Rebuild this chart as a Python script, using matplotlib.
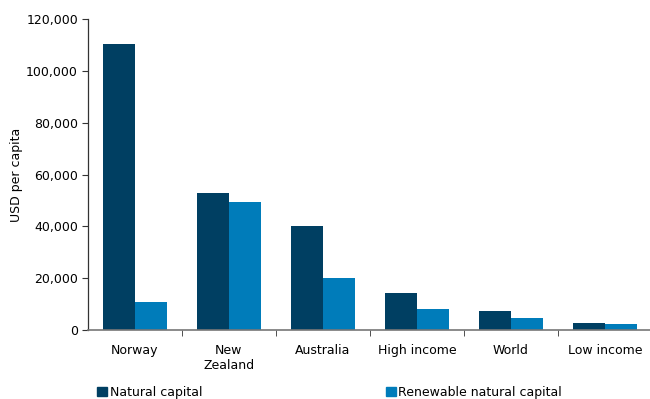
import numpy as np
import matplotlib
matplotlib.use("Agg")
import matplotlib.pyplot as plt
from matplotlib.patches import Patch
from matplotlib.ticker import FuncFormatter

categories = ["Norway", "New\nZealand", "Australia", "High income", "World", "Low income"]
natural_capital = [110300, 53000, 40100, 14300, 7300, 2600]
renewable_capital = [10800, 49400, 19900, 8100, 4600, 2300]

dark_blue = "#003f62"
light_blue = "#007cba"

plt.rcParams["font.family"] = "DejaVu Sans"
plt.rcParams["font.size"] = 9

fig = plt.figure(figsize=(6.5, 3.99), dpi=100)
ax = fig.add_axes([0.135, 0.173, 0.868, 0.779])

x = np.arange(len(categories))
w = 0.34
ax.bar(x - w / 2, natural_capital, w, color=dark_blue, label="Natural capital")
ax.bar(x + w / 2, renewable_capital, w, color=light_blue, label="Renewable natural capital")

ax.set_xlim(-0.5, len(categories) - 0.5)
ax.set_ylim(0, 120000)
ax.set_yticks(np.arange(0, 120001, 20000))
ax.yaxis.set_major_formatter(FuncFormatter(lambda v, p: f"{int(v):,}"))
ax.set_ylabel("USD per capita", labelpad=2)

ax.set_xticks(x)
ax.set_xticklabels(categories)
ax.tick_params(axis="x", which="major", length=0, pad=10)
ax.set_xticks(x[:-1] + 0.5, minor=True)
ax.tick_params(axis="x", which="minor", length=4, direction="out", color="#333333")
ax.tick_params(axis="y", length=4, direction="out", color="#333333", pad=3)

for s in ["top", "right"]:
    ax.spines[s].set_visible(False)
ax.spines["left"].set_color("#333333")
ax.spines["bottom"].set_color("#777777")
ax.spines["left"].set_linewidth(0.9)
ax.spines["bottom"].set_linewidth(1.2)

handles = [Patch(color=dark_blue), Patch(color=light_blue)]
fig.legend(handles, ["Natural capital", "Renewable natural capital"],
           loc="lower left", bbox_to_anchor=(0.132, -0.028), ncol=2, frameon=False,
           handlelength=0.8, handleheight=0.8, handletextpad=0.2, columnspacing=14.7)

fig.savefig("out.png", dpi=100)
